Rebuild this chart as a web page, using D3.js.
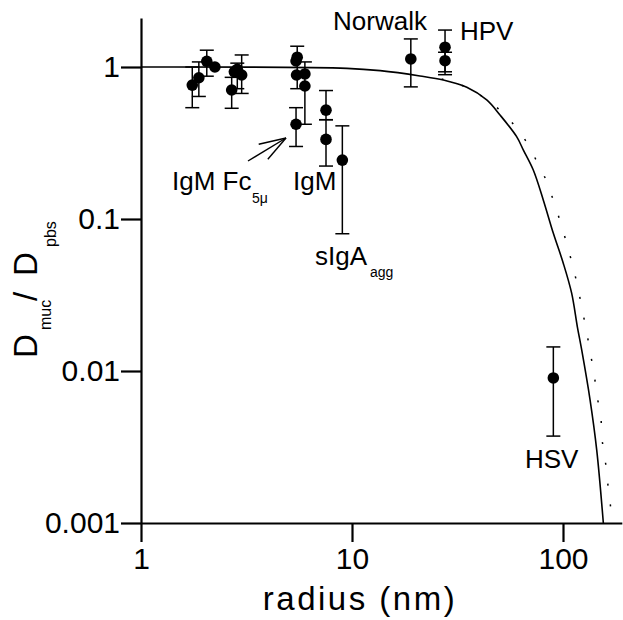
<!DOCTYPE html>
<html>
<head>
<meta charset="utf-8">
<script src="https://cdn.jsdelivr.net/npm/d3@7"></script>
<style>
  html, body { margin: 0; padding: 0; background: #fff; }
  svg { display: block; font-family: "Liberation Sans", Arial, Helvetica, sans-serif; }
</style>
</head>
<body>
<svg id="chart" width="623" height="620"></svg>
<script>
// ---- data ----
const pointRadius = [1.75, 1.88, 2.05, 2.24, 2.69, 2.77, 2.86, 3.0, 5.5, 5.43, 5.46, 5.98, 5.98, 5.43, 7.53, 7.53, 9.0, 19.0, 27.6, 27.6, 90];
const pointValue  = [0.76, 0.85, 1.09, 1.0, 0.706, 0.93, 0.965, 0.886, 1.16, 1.095, 0.886, 0.90, 0.75, 0.42, 0.52, 0.334, 0.244, 1.13, 1.35, 1.10, 0.009];
const errLow      = [0.54, 0.64, 0.87, null, 0.535, null, 0.72, 0.67, 0.72, null, null, null, 0.42, 0.30, 0.45, 0.223, 0.080, 0.74, 0.89, 0.93, 0.00373];
const errHigh     = [1.0, 1.08, 1.29, null, 0.855, null, 1.06, 1.2, 1.37, null, null, null, 1.08, 0.54, 0.70, 0.45, 0.41, 1.53, 1.75, 1.25, 0.0144];

// model curve (solid)
const solidR = [1, 9.47, 13.6, 21.0, 27.1, 35.0, 43.5, 50.3, 60.3, 64.9, 72.3, 80.7, 90.0, 100.3, 109.9, 116.9, 122.7, 134.4, 144.5, 155.3];
const solidV = [1, 0.98, 0.946, 0.873, 0.821, 0.735, 0.607, 0.483, 0.348, 0.284, 0.210, 0.133, 0.0805, 0.0512, 0.0325, 0.0196, 0.0137, 0.00644, 0.00302, 0.001];
// model curve (dotted)
const dotR = [26.6, 34.3, 42.7, 54.1, 65.3, 74.3, 83.0, 90.6, 97.9, 105.2, 111.2, 117.4, 123.1, 129.5, 134.3, 140.3, 144.5, 151.0, 152.5, 158.1, 162.2, 167.1, 170.7];
const dotV = [0.834, 0.742, 0.622, 0.471, 0.340, 0.247, 0.181, 0.129, 0.0923, 0.0657, 0.0491, 0.0359, 0.0256, 0.0181, 0.0134, 0.0097, 0.00695, 0.00514, 0.0037, 0.00268, 0.00192, 0.00138, 0.001];

const xTicks = [1, 10, 100];
const yTicks = [0.001, 0.01, 0.1, 1];
const xTitle = "radius (nm)";
const labelTexts = ["Norwalk", "HPV", "IgM Fc", "IgM", "sIgA", "HSV"];
const subTexts = ["5μ", "agg"];

// ---- layout ----
const svg = d3.select("#chart");
const x = d3.scaleLog().domain([1, 190]).range([141, 141 + 211 * Math.log10(190)]);
const y = d3.scaleLog().domain([0.001, 2.1]).range([523, 523 - 152 * Math.log10(2100)]);

// axes
const xAxis = d3.axisBottom(x).tickValues(xTicks).tickFormat(d => String(d)).tickSizeInner(19).tickSizeOuter(0).tickPadding(6);
const yAxis = d3.axisLeft(y).tickValues(yTicks).tickFormat(d => String(d)).tickSizeInner(20).tickSizeOuter(0).tickPadding(1);

const gx = svg.append("g").attr("transform", "translate(0,523)").call(xAxis);
const gy = svg.append("g").attr("transform", "translate(141,0)").call(yAxis);
[gx, gy].forEach(g => {
  g.select(".domain").attr("stroke", "#000").attr("stroke-width", 2.2);
  g.selectAll(".tick line").attr("stroke", "#000").attr("stroke-width", 2.2);
  g.selectAll(".tick text").attr("fill", "#000").attr("font-size", 30).attr("font-family", "'Liberation Sans', Arial, sans-serif");
});

// curves
svg.append("path")
  .datum(solidR.map((r, i) => [r, solidV[i]]))
  .attr("d", d3.line().x(d => x(d[0])).y(d => y(d[1])).curve(d3.curveCatmullRom))
  .attr("fill", "none").attr("stroke", "#000").attr("stroke-width", 1.6);
svg.append("path")
  .datum(dotR.map((r, i) => [r, dotV[i]]))
  .attr("d", d3.line().x(d => x(d[0])).y(d => y(d[1])).curve(d3.curveCatmullRom))
  .attr("fill", "none").attr("stroke", "#000").attr("stroke-width", 1.5)
  .attr("stroke-dasharray", "2,19");

// error bars
const pts = pointRadius.map((r, i) => ({ r, v: pointValue[i], lo: errLow[i], hi: errHigh[i] }));
const eg = svg.append("g").attr("stroke", "#000").attr("stroke-width", 1.5);
pts.filter(d => d.lo !== null).forEach(d => {
  const cx = x(d.r);
  eg.append("line").attr("x1", cx).attr("x2", cx).attr("y1", y(d.lo)).attr("y2", y(d.hi));
  eg.append("line").attr("x1", cx - 7).attr("x2", cx + 7).attr("y1", y(d.lo)).attr("y2", y(d.lo));
  eg.append("line").attr("x1", cx - 7).attr("x2", cx + 7).attr("y1", y(d.hi)).attr("y2", y(d.hi));
});

// points
svg.append("g").selectAll("circle").data(pts).join("circle")
  .attr("cx", d => x(d.r)).attr("cy", d => y(d.v)).attr("r", 5.8).attr("fill", "#000");

// annotations
const lab = svg.append("g").attr("fill", "#000").attr("font-size", 26);
const labelPos = [[333, 30], [460, 40], [172, 190], [293, 190], [315, 265], [525, 468]];
labelTexts.forEach((t, i) => {
  lab.append("text").attr("x", labelPos[i][0]).attr("y", labelPos[i][1]).text(t);
});
const subPos = [[252, 203], [370, 277]];
subTexts.forEach((t, i) => {
  lab.append("text").attr("x", subPos[i][0]).attr("y", subPos[i][1]).attr("font-size", 14).text(t);
});

// arrow to IgM Fc5μ point
const tail = [248, 161], tip = [286, 138];
const ang = Math.atan2(tip[1] - tail[1], tip[0] - tail[0]);
const ag = svg.append("g").attr("stroke", "#000").attr("stroke-width", 1.4).attr("fill", "none");
ag.append("line").attr("x1", tail[0]).attr("y1", tail[1]).attr("x2", tip[0]).attr("y2", tip[1]);
[-0.32, 0.32].forEach(da => {
  const a = ang + Math.PI + da;
  ag.append("line").attr("x1", tip[0]).attr("y1", tip[1])
    .attr("x2", tip[0] + 28 * Math.cos(a)).attr("y2", tip[1] + 28 * Math.sin(a));
});

// axis titles
svg.append("text").attr("x", 360).attr("y", 610).attr("text-anchor", "middle")
  .attr("font-size", 33).attr("letter-spacing", 2.5).attr("fill", "#000").text(xTitle);

const yt = svg.append("g").attr("fill", "#000");
const yParts = [["D", 33, 37, 358], ["muc", 16, 51, 330], ["/", 33, 37, 301], ["D", 33, 37, 276], ["pbs", 16, 56, 247]];
yParts.forEach(p => {
  yt.append("text").attr("transform", `translate(${p[2]},${p[3]}) rotate(-90)`)
    .attr("font-size", p[1]).text(p[0]);
});
</script>
</body>
</html>
